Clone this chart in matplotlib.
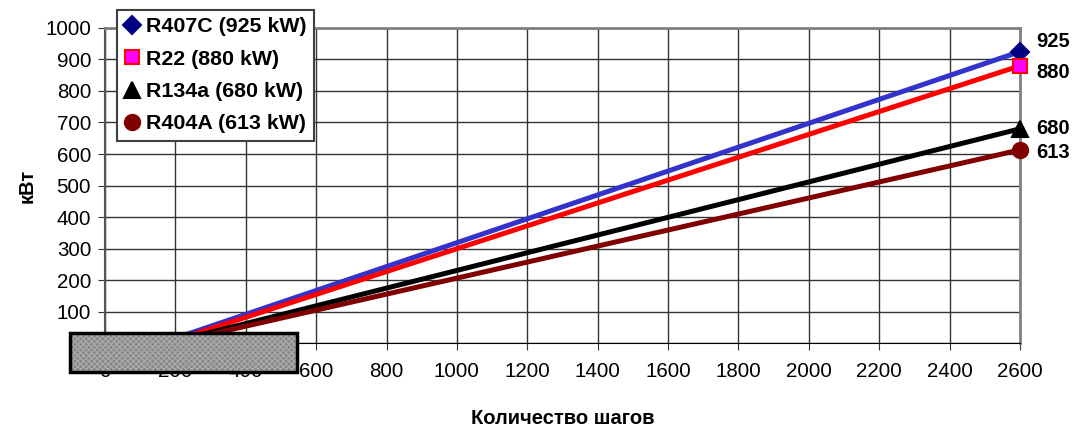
import matplotlib.pyplot as plt
from matplotlib.patches import Rectangle

plt.rcParams['font.family'] = ['Liberation Sans', 'DejaVu Sans']

# data
names = ["R407C (925 kW)", "R22 (880 kW)", "R134a (680 kW)", "R404A (613 kW)"]
start_x = [160, 175, 180, 190]
end_x = [2600, 2600, 2600, 2600]
end_y = [925, 880, 680, 613]
end_labels = ["925", "880", "680", "613"]
line_colors = ["#3333cc", "#ff0000", "#000000", "#800000"]
mk_face = ["#000080", "#ff00ff", "#000000", "#800000"]
mk_edge = ["#000080", "#ff0000", "#000000", "#800000"]
markers = ["D", "s", "^", "o"]
mk_size = [9, 10, 11, 11]
label_dy = [7, -5, 0, -2]

xticks = list(range(0, 2601, 200))
yticks = list(range(0, 1001, 100))

fig = plt.figure(figsize=(10.78, 4.30), dpi=100)
ax = fig.add_axes([0.0974, 0.2023, 0.8488, 0.7326])

for i in range(len(names)):
    ax.plot([start_x[i], end_x[i]], [0, end_y[i]], color=line_colors[i], lw=3.6,
            solid_capstyle='butt', zorder=3)
    ax.plot([end_x[i]], [end_y[i]], linestyle='none', marker=markers[i], ms=mk_size[i],
            mfc=mk_face[i], mec=mk_edge[i], mew=1.5, label=names[i], zorder=4,
            clip_on=False)
    ax.annotate(end_labels[i], (end_x[i], end_y[i]), xytext=(12, label_dy[i]),
                textcoords='offset points', va='center', ha='left',
                fontsize=14.5, fontweight='bold', annotation_clip=False)

ax.set_xlim(0, 2600)
ax.set_ylim(0, 1000)
ax.set_xticks(xticks)
ax.set_yticks(yticks)
ax.tick_params(labelsize=14.8, direction='out', length=5, color='#333333')
ax.tick_params(axis='x', pad=9)
ax.tick_params(axis='y', pad=5)
ax.grid(True, color='#333333', lw=1.0)
ax.set_axisbelow(True)
for s in ['top', 'right']:
    ax.spines[s].set_color('#808080')
    ax.spines[s].set_linewidth(2)
ax.spines['left'].set_color('#555555')
ax.spines['left'].set_linewidth(1.5)
ax.spines['bottom'].set_color('#000000')

ax.set_ylabel("кВт", fontsize=14.5, fontweight='bold', labelpad=6)
ax.set_xlabel("Количество шагов", fontsize=14.5, fontweight='bold', labelpad=20)

leg = fig.legend(loc='upper left', bbox_to_anchor=(117 / 1078, 1 - 10 / 430),
                 prop={'weight': 'bold', 'size': 15.4},
                 frameon=True, fancybox=False, framealpha=1, edgecolor='#404040',
                 handlelength=0.7, handletextpad=0.3, borderpad=0.35,
                 labelspacing=0.62, borderaxespad=0)
leg.get_frame().set_linewidth(1.5)

# gray hatched block over the lower-left corner
box_x, box_y, box_w, box_h = -99, -92, 644, 124
fill = Rectangle((box_x, box_y), box_w, box_h, transform=ax.transData,
                 facecolor='#858585', edgecolor='#a8a8a8', hatch='xxxxxx',
                 linewidth=0, zorder=10)
border = Rectangle((box_x, box_y), box_w, box_h, transform=ax.transData,
                   facecolor='none', edgecolor='black', linewidth=2.5, zorder=11)
fig.add_artist(fill)
fig.add_artist(border)

fig.savefig("out.png", dpi=100)
